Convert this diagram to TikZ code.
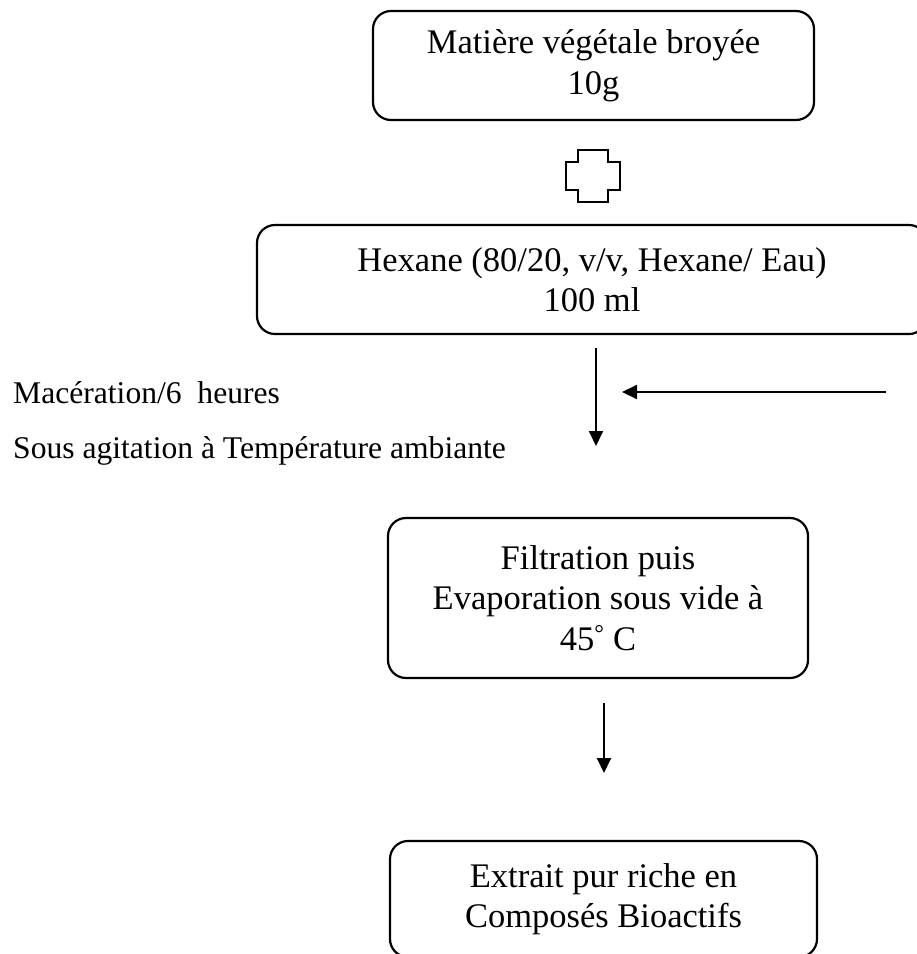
\documentclass[tikz,border=0pt]{standalone}
\usepackage{fontspec}
\setmainfont{Liberation Serif}
\usetikzlibrary{arrows.meta}
\tikzset{
  procbox/.style={draw=black, line width=2.2pt, rounded corners=18pt, align=center, inner sep=0pt,
    font=\fontsize{34.5}{40.5}\selectfont},
  sidelabel/.style={anchor=base west, inner sep=0pt, font=\fontsize{31.6}{37}\selectfont},
  flow/.style={line width=2pt, -{Triangle[length=15pt,width=14pt]}}
}
\begin{document}
\begin{tikzpicture}[x=1pt,y=-1pt]
\useasboundingbox (0,0) rectangle (917,954);
\node[procbox, minimum width=441pt, minimum height=109pt] (b1) at (593.5,65.5) {Matière végétale broyée\\10g};
\draw[line width=2.2pt, line join=miter] (578,150) -- (608,150) -- (608,162) -- (620,162) -- (620,190) -- (608,190) -- (608,202) -- (578,202) -- (578,190) -- (566,190) -- (566,162) -- (578,162) -- cycle;
\node[procbox, minimum width=670pt, minimum height=109pt] (b2) at (592,279.5) {Hexane (80/20, v/v, Hexane/ Eau)\\100 ml};
\coordinate (a1s) at (596,348);
\coordinate (a1e) at (596,446);
\draw[flow] (a1s) -- (a1e);
\coordinate (a2s) at (886,392);
\coordinate (a2e) at (622,392);
\draw[flow] (a2s) -- (a2e);
\node[sidelabel] (l1) at (13,403) {Macération/6~~heures};
\node[sidelabel] (l2) at (13,458) {Sous agitation à Température ambiante};
\node[procbox, minimum width=420pt, minimum height=160pt] (b3) at (598,598) {Filtration puis\\Evaporation sous vide à\\45\textsuperscript{°} C};
\coordinate (a3s) at (604,703);
\coordinate (a3e) at (604,773);
\draw[flow] (a3s) -- (a3e);
\node[procbox, minimum width=427pt, minimum height=116pt] (b4) at (603.5,899) {Extrait pur riche en\\Composés Bioactifs};
\end{tikzpicture}
\end{document}
